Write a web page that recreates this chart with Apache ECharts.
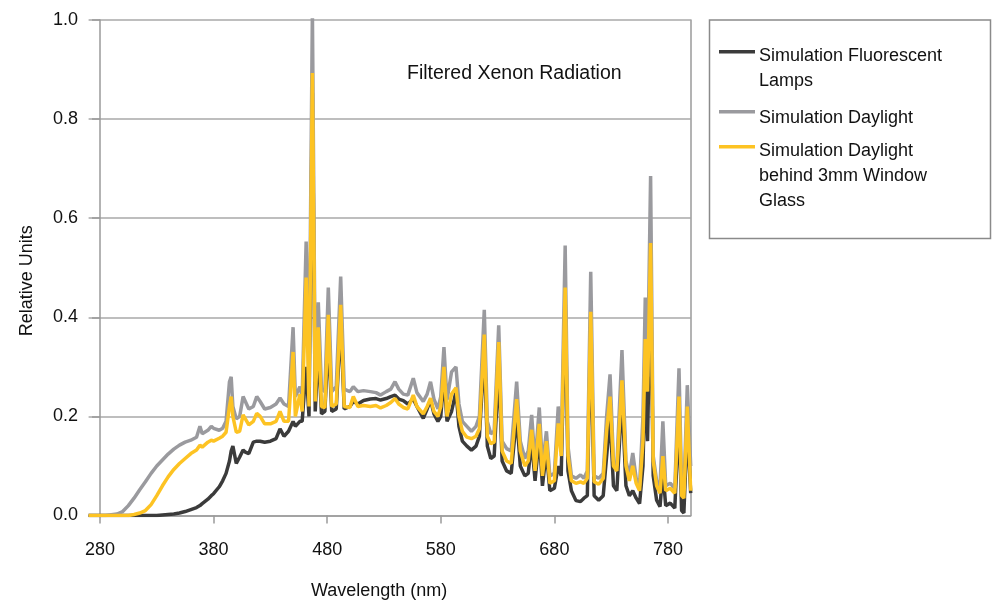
<!DOCTYPE html>
<html>
<head>
<meta charset="utf-8">
<script src="https://cdn.jsdelivr.net/npm/echarts@6/dist/echarts.min.js"></script>
<style>
  html, body { margin: 0; padding: 0; background: #fff; }
  #chart { width: 993px; height: 600px; }
</style>
</head>
<body>
<div id="chart"></div>
<script>
// wavelength (nm) sample points
const wavelengths = [
  270, 285, 295, 300, 305, 310, 315, 320, 325, 330,
  335, 340, 345, 350, 355, 360, 365, 368, 370, 375,
  378, 380, 385, 388, 391, 394, 395.5, 397, 400, 403,
  406, 408, 411, 415, 418, 421, 425, 430, 435, 438.5,
  442, 446, 450, 452, 456, 458, 461.5, 464, 467, 469.5,
  472.2, 475, 478, 481, 484, 488, 491.9, 495, 500, 503,
  507, 512, 518, 523, 527, 532, 536, 539.7, 543, 547,
  551, 555.8, 559, 564.6, 568, 571, 574, 577.5, 580, 582.8,
  585.5, 589.5, 593.4, 596, 599, 603, 607, 611, 614, 618.3,
  621, 624, 627, 631, 634, 638, 642, 646.8, 650, 654,
  657, 660, 663, 666.7, 669.5, 673, 676, 680, 683.4, 686,
  689.5, 692, 695, 699, 703, 706, 709, 712, 715, 719,
  723, 726, 729, 732, 735, 739.5, 743, 746, 749, 752,
  755, 758, 760, 762, 764.7, 767, 770, 773, 775.5, 778,
  782, 786, 789.7, 792, 794, 797, 800
]

const fluorescent = [
  0, 0, 0, 0, 0, 0, 0, 0, 0, 0,
  0.001, 0.002, 0.003, 0.005, 0.008, 0.012, 0.016, 0.02, 0.024, 0.033,
  0.04, 0.044, 0.058, 0.07, 0.085, 0.11, 0.13, 0.14, 0.105, 0.118,
  0.132, 0.128, 0.125, 0.148, 0.15, 0.15, 0.148, 0.15, 0.155, 0.175,
  0.16, 0.17, 0.19, 0.18, 0.19, 0.19, 0.3, 0.2, 0.853, 0.21,
  0.34, 0.205, 0.21, 0.36, 0.21, 0.215, 0.39, 0.215, 0.22, 0.23,
  0.225, 0.232, 0.235, 0.236, 0.233, 0.236, 0.24, 0.243, 0.235, 0.232,
  0.225, 0.235, 0.22, 0.196, 0.215, 0.233, 0.205, 0.19, 0.2, 0.28,
  0.19, 0.21, 0.25, 0.18, 0.15, 0.14, 0.132, 0.14, 0.16, 0.33,
  0.14, 0.115, 0.12, 0.3, 0.11, 0.09, 0.085, 0.2, 0.1, 0.08,
  0.085, 0.15, 0.07, 0.16, 0.06, 0.13, 0.05, 0.055, 0.1, 0.08,
  0.44, 0.09, 0.05, 0.03, 0.028, 0.035, 0.04, 0.38, 0.04, 0.031,
  0.04, 0.12, 0.2, 0.06, 0.05, 0.24, 0.06, 0.04, 0.05, 0.035,
  0.024, 0.1, 0.3, 0.15, 0.48, 0.08, 0.031, 0.018, 0.09, 0.02,
  0.025, 0.015, 0.2, 0.01, 0.005, 0.18, 0.045
]

const daylight = [
  0, 0, 0.003, 0.008, 0.02, 0.035, 0.052, 0.068, 0.085, 0.1,
  0.112, 0.124, 0.134, 0.142, 0.148, 0.152, 0.158, 0.18, 0.165, 0.172,
  0.18, 0.176, 0.172, 0.176, 0.19, 0.27, 0.28, 0.22, 0.195, 0.2,
  0.24, 0.23, 0.215, 0.22, 0.24, 0.23, 0.215, 0.218, 0.225, 0.237,
  0.225, 0.22, 0.38, 0.24, 0.26, 0.24, 0.553, 0.26, 1.017, 0.27,
  0.43, 0.255, 0.25, 0.46, 0.25, 0.26, 0.482, 0.255, 0.25, 0.26,
  0.25, 0.252, 0.25, 0.248, 0.243, 0.25, 0.255, 0.27, 0.255, 0.245,
  0.243, 0.277, 0.248, 0.23, 0.245, 0.27, 0.235, 0.215, 0.24, 0.34,
  0.233, 0.29, 0.3, 0.225, 0.19, 0.18, 0.17, 0.18, 0.2, 0.415,
  0.19, 0.165, 0.17, 0.384, 0.15, 0.135, 0.13, 0.27, 0.15, 0.115,
  0.13, 0.203, 0.105, 0.218, 0.1, 0.17, 0.08, 0.085, 0.22, 0.13,
  0.545, 0.14, 0.08, 0.075, 0.082, 0.075, 0.09, 0.492, 0.08, 0.075,
  0.085, 0.2, 0.285, 0.11, 0.1, 0.334, 0.11, 0.08, 0.126, 0.075,
  0.06, 0.2, 0.44, 0.28, 0.685, 0.12, 0.07, 0.06, 0.19, 0.06,
  0.065, 0.055, 0.297, 0.06, 0.05, 0.263, 0.1
]

const windowGlass = [
  0, 0, 0, 0, 0, 0.002, 0.005, 0.01, 0.022, 0.04,
  0.06, 0.078, 0.093, 0.105, 0.115, 0.125, 0.132, 0.142, 0.138, 0.148,
  0.152, 0.15, 0.156, 0.16, 0.168, 0.22, 0.24, 0.2, 0.168, 0.17,
  0.203, 0.195, 0.183, 0.19, 0.206, 0.2, 0.185, 0.185, 0.19, 0.21,
  0.19, 0.19, 0.33, 0.2, 0.245, 0.21, 0.48, 0.22, 0.893, 0.23,
  0.38, 0.22, 0.218, 0.405, 0.22, 0.225, 0.425, 0.22, 0.218, 0.24,
  0.22, 0.222, 0.22, 0.222, 0.217, 0.222, 0.228, 0.236, 0.225, 0.218,
  0.215, 0.243, 0.22, 0.205, 0.22, 0.237, 0.21, 0.2, 0.22, 0.3,
  0.2, 0.245, 0.258, 0.2, 0.17, 0.158, 0.155, 0.16, 0.175, 0.365,
  0.16, 0.145, 0.148, 0.35, 0.13, 0.11, 0.105, 0.235, 0.13, 0.1,
  0.11, 0.173, 0.09, 0.185, 0.08, 0.15, 0.065, 0.07, 0.186, 0.12,
  0.46, 0.12, 0.07, 0.065, 0.068, 0.065, 0.075, 0.411, 0.068, 0.063,
  0.075, 0.17, 0.24, 0.1, 0.09, 0.273, 0.1, 0.07, 0.1, 0.065,
  0.05, 0.15, 0.356, 0.25, 0.55, 0.11, 0.06, 0.045, 0.12, 0.05,
  0.055, 0.045, 0.24, 0.04, 0.035, 0.22, 0.05
]

const seriesNames = [
  'Simulation Fluorescent\nLamps',
  'Simulation Daylight',
  'Simulation Daylight\nbehind 3mm Window\nGlass'
]
const seriesColors = ['#3b3b3b', '#9a9a9e', '#fdc323']
const xTicks = [280, 380, 480, 580, 680, 780]

const font = "'Liberation Sans', Arial, sans-serif"

const chart = echarts.init(document.getElementById('chart'))

function pairs(values) {
  return wavelengths.map((w, i) => [w, values[i]])
}

const seriesValues = [fluorescent, daylight, windowGlass]

// legend drawn by hand so the swatch sits on the first text line
const legendTops = [43.5, 105.5, 139]
const legendSwatchY = [51.7, 111.7, 146.7]
const legendItems = []
seriesNames.forEach((name, i) => {
  legendItems.push({
    type: 'line',
    shape: { x1: 719, y1: legendSwatchY[i], x2: 755, y2: legendSwatchY[i] },
    style: { stroke: seriesColors[i], lineWidth: 3.5 }
  })
  legendItems.push({
    type: 'text',
    x: 759,
    y: legendTops[i],
    style: {
      text: name,
      font: '18px ' + font,
      fill: '#111',
      lineHeight: 24.7,
      verticalAlign: 'top'
    }
  })
})

chart.setOption({
  animation: false,
  backgroundColor: '#fff',
  title: {
    text: 'Filtered Xenon Radiation',
    left: 407,
    top: 64,
    padding: 0,
    textStyle: { fontFamily: font, fontSize: 19.5, fontWeight: 'normal', color: '#111' }
  },
  grid: {
    left: 88.6,
    right: 302.3,
    top: 20,
    bottom: 84.5,
    outerBoundsMode: 'none',
    containLabel: false
  },
  xAxis: {
    type: 'value',
    min: 270,
    max: 800,
    name: 'Wavelength (nm)',
    nameLocation: 'middle',
    nameGap: 67,
    nameTextStyle: { fontFamily: font, fontSize: 18, color: '#111', padding: [0, 21, 0, 0] },
    axisLine: { lineStyle: { color: '#9a9a9a', width: 1.5 } },
    axisTick: {
      customValues: xTicks,
      length: 8,
      lineStyle: { color: '#9a9a9a', width: 1.5 }
    },
    axisLabel: {
      customValues: xTicks,
      margin: 26,
      fontFamily: font,
      fontSize: 18,
      color: '#111'
    },
    splitLine: { show: false }
  },
  yAxis: [
    {
      type: 'value',
      min: 0,
      max: 1,
      interval: 0.2,
      offset: -11.4,
      name: 'Relative Units',
      nameLocation: 'middle',
      nameGap: 64,
      nameRotate: 90,
      nameTextStyle: { fontFamily: font, fontSize: 18, color: '#111', padding: [0, 26, 0, 0] },
      axisLine: { show: true, lineStyle: { color: '#9a9a9a', width: 1.5 } },
      axisTick: { show: true, length: 8, lineStyle: { color: '#9a9a9a', width: 1.5 } },
      axisLabel: {
        margin: 22,
        fontFamily: font,
        fontSize: 18,
        color: '#111',
        formatter: v => v.toFixed(1)
      },
      splitLine: { show: true, lineStyle: { color: '#a8a8a8', width: 1.5 } }
    },
    {
      type: 'value',
      position: 'right',
      min: 0,
      max: 1,
      axisLine: { show: true, lineStyle: { color: '#9a9a9a', width: 1.5 } },
      axisTick: { show: false },
      axisLabel: { show: false },
      splitLine: { show: false }
    }
  ],
  series: seriesValues.map((values, i) => ({
    name: seriesNames[i],
    type: 'line',
    data: pairs(values),
    showSymbol: false,
    symbol: 'none',
    lineStyle: { color: seriesColors[i], width: 3.5, join: 'bevel', cap: 'butt' },
    z: 2 + i
  })),
  graphic: [
    {
      type: 'rect',
      shape: { x: 709.5, y: 20, width: 281, height: 218.5 },
      style: { fill: '#fff', stroke: '#8a8a8a', lineWidth: 1.5 }
    }
  ].concat(legendItems)
})
</script>
</body>
</html>
